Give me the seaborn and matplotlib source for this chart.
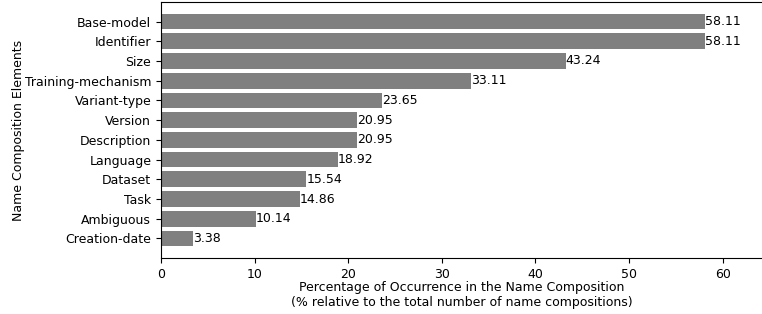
import pandas as pd
import seaborn as sns
import matplotlib.pyplot as plt

# Data
elements = ['Base-model', 'Identifier', 'Size', 'Training-mechanism', 'Variant-type',
            'Version', 'Description', 'Language', 'Dataset', 'Task', 'Ambiguous',
            'Creation-date']
percentages = [58.11, 58.11, 43.24, 33.11, 23.65, 20.95, 20.95, 18.92, 15.54,
               14.86, 10.14, 3.38]

df = pd.DataFrame({'element': elements, 'pct': percentages})

plt.rcParams['font.size'] = 9

fig = plt.figure(figsize=(7.62, 3.14), dpi=100)
ax = fig.add_axes([161 / 762, 56 / 314, 602 / 762, 256 / 314])

sns.barplot(data=df, x='pct', y='element', color='gray', saturation=1,
            width=0.8, ax=ax)
ax.bar_label(ax.containers[0], fmt='%.2f', padding=0, fontsize=9)

# Match matplotlib's default barh margins
n = len(elements)
pad = 0.4 + 0.05 * (n - 1 + 0.8)
ax.set_ylim(n - 1 + pad, -pad)
ax.set_xlim(0, 64.3)

ax.set_xlabel('Percentage of Occurrence in the Name Composition\n'
              '(% relative to the total number of name compositions)',
              labelpad=0.5)
ax.set_ylabel('Name Composition Elements', labelpad=0)

fig.savefig('out.png', dpi=100)
